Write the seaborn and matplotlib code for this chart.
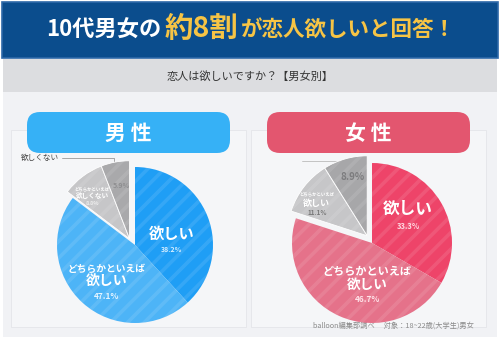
import numpy as np
import pandas as pd
import seaborn as sns
import matplotlib
matplotlib.use("Agg")
import matplotlib.pyplot as plt
from matplotlib.patches import Rectangle, FancyBboxPatch

sns.set_theme(style="white")
plt.rcParams["font.family"] = ["Noto Sans CJK JP", "DejaVu Sans"]
plt.rcParams["hatch.linewidth"] = 2.6

# ---------------- data ----------------
answers = ["欲しい", "どちらかといえば欲しい", "どちらかといえば欲しくない", "欲しくない"]
male_values = [38.2, 47.1, 8.8, 5.9]
female_values = [33.3, 46.7, 11.1, 8.9]
male_pct = ["38.2%", "47.1%", "8.8%", "5.9%"]
female_pct = ["33.3%", "46.7%", "11.1%", "8.9%"]
male_small = ["", "どちらかといえば", "どちらかといえば", ""]
male_main = ["欲しい", "欲しい", "欲しくない", ""]
female_small = ["", "どちらかといえば", "どちらかといえば", ""]
female_main = ["欲しい", "欲しい", "欲しい", ""]
title_parts = ["10代男女の", "約8割", "が恋人欲しいと回答！"]
subtitle = "恋人は欲しいですか？【男女別】"
headers = ["男 性", "女 性"]
outside_label = "欲しくない"
footer = "balloon編集部調べ　 対象：18~22歳(大学生)男女"

male_colors = ["#1f9ef5", "#4db4f7", "#c6c6c8", "#a9a9ab"]
female_colors = ["#ee4469", "#e5728a", "#c6c6c8", "#a7a7a9"]

W, H = 500, 344
fig = plt.figure(figsize=(W / 100, H / 100), dpi=100)
fig.patch.set_facecolor("white")

bg = fig.add_axes([0, 0, 1, 1], zorder=0)
bg.set_xlim(0, W)
bg.set_ylim(H, 0)
bg.axis("off")

# banner
bg.add_patch(Rectangle((2, 2), 496, 56, facecolor="#0b4d8d", edgecolor="#2d68a8", lw=1.2))
bg.add_patch(Rectangle((3, 59), 494, 33, facecolor="#dcdde0", edgecolor="none"))
bg.add_patch(Rectangle((3, 92), 494, 245, facecolor="#f1f2f5", edgecolor="none"))
# cards
for x0 in (11, 251):
    bg.add_patch(Rectangle((x0, 130), 235, 197, facecolor="#f5f6f8", edgecolor="#e4e5e9", lw=0.6))

# title with mixed sizes
renderer = fig.canvas.get_renderer()
sizes = [16, 20.5, 15.5]
colors_t = ["white", "#f6c445", "#f6c445"]
texts = []
for p, s, c in zip(title_parts, sizes, colors_t):
    t = bg.text(0, 37, p, fontsize=s, color=c, fontweight="bold", va="baseline", ha="left")
    texts.append(t)
widths = [t.get_window_extent(renderer).width for t in texts]
gap = 3
total = sum(widths) + gap * (len(widths) - 1)
x = 251 - total / 2
for t, w in zip(texts, widths):
    t.set_x(x)
    x += w + gap

bg.text(250, 76, subtitle, fontsize=8, color="#333333", ha="center", va="center")

# header pills
for (x0, x1), label, col in zip([(27, 230), (267, 470)], headers, ["#36b1f6", "#e3566f"]):
    bg.add_patch(FancyBboxPatch((x0, 112), x1 - x0, 41,
                                boxstyle="round,pad=0,rounding_size=13",
                                facecolor=col, edgecolor="none"))
    bg.text((x0 + x1) / 2, 133, label, fontsize=15, color="white", fontweight="bold",
            ha="center", va="center")

# leader lines
bg.plot([62, 114, 114], [158, 158, 164], color="#999999", lw=0.6)
bg.text(21, 158, outside_label, fontsize=5.5, color="#444444", ha="left", va="center")
bg.plot([302, 340, 340], [161, 161, 170], color="#bbbbbb", lw=0.6)

bg.text(474, 326, footer, fontsize=5.2, color="#8a8a8a", ha="right", va="center")


def make_pie(cx, cy, R, values, colors, small, main, pct, shift, pos, fs, pct_color):
    pad = 1.3
    w = 2 * R * pad
    ax = fig.add_axes([(cx - w / 2) / W, 1 - (cy + w / 2) / H, w / W, w / H], zorder=2)
    wedges, _ = ax.pie(values, colors=colors, startangle=90, counterclock=False,
                       radius=1, wedgeprops=dict(linewidth=0))
    hatch_w, _ = ax.pie(values, colors=["none"] * len(values), startangle=90,
                        counterclock=False, radius=1,
                        wedgeprops=dict(linewidth=0, hatch="//",
                                        edgecolor=(1, 1, 1, 0.10)))
    for i in (2, 3):
        for wg in (wedges[i], hatch_w[i]):
            wg.set_center(shift)
        wedges[i].set_edgecolor("white")
        wedges[i].set_linewidth(0.6)
    ax.set_xlim(-pad, pad)
    ax.set_ylim(-pad, pad)
    ax.axis("off")
    for i in range(len(values)):
        px, py = pos[i]
        fs_small, fs_main, fs_pct = fs[i]
        if small[i]:
            ax.text(px, py + 0.17 * fs_main / 10, small[i], fontsize=fs_small, color="white",
                    fontweight="bold", ha="center", va="center")
        if main[i]:
            ax.text(px, py, main[i], fontsize=fs_main, color="white", fontweight="bold",
                    ha="center", va="center")
        ax.text(px, py - 0.15 * max(fs_main, 6) / 8,
                pct[i], fontsize=fs_pct, color=pct_color[i], fontweight="bold",
                ha="center", va="center")
    return ax


make_pie(135, 245, 78, male_values, male_colors, male_small, male_main, male_pct,
         (-0.07, 0.08),
         [(0.47, 0.15), (-0.36, -0.47), (-0.55, 0.64), (-0.17, 0.88)],
         [(0, 11, 5), (7, 10, 6), (3.2, 4.8, 4), (0, 0, 5)],
         ["#d9efff", "#e6f5ff", "#eeeeee", "#8e8e90"])

make_pie(372, 243, 80, female_values, female_colors, female_small, female_main, female_pct,
         (-0.06, 0.09),
         [(0.45, 0.43), (-0.06, -0.52), (-0.69, 0.5), (-0.24, 0.94)],
         [(0, 12, 5.5), (8, 9.8, 6), (3.2, 6.5, 4.5), (0, 0, 7)],
         ["#ffd9e1", "#ffe3e9", "#777777", "#7c7c7e"])

fig.savefig("out.png", dpi=100, facecolor="white")
